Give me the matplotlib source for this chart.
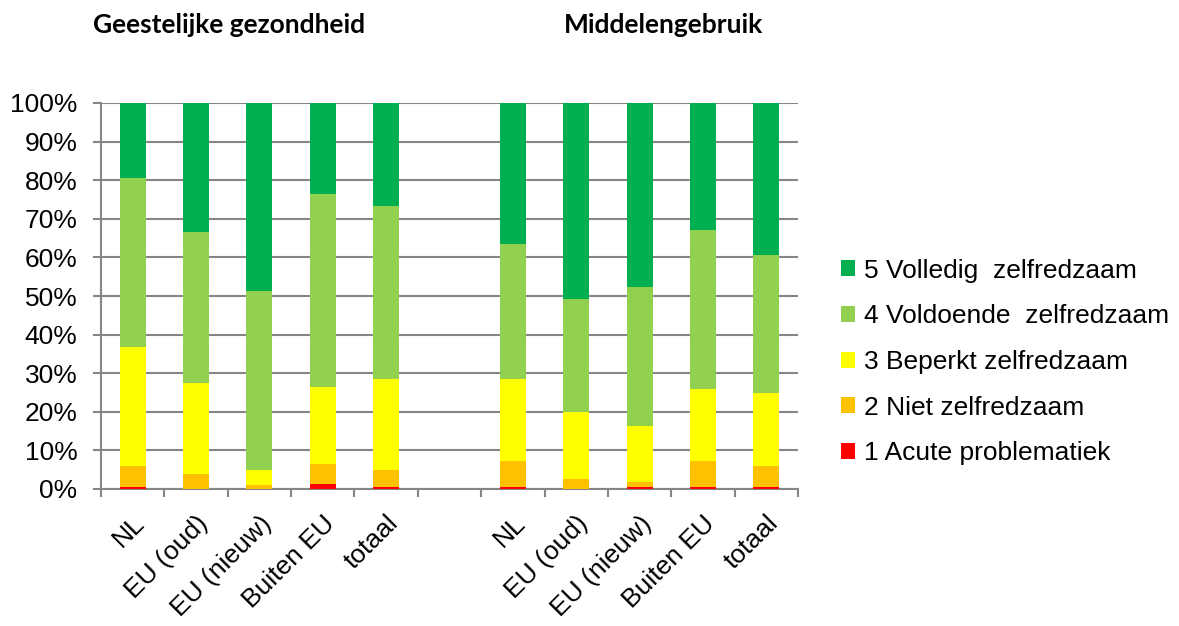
import numpy as np
import matplotlib
matplotlib.use("Agg")
from matplotlib import pyplot as plt
from matplotlib.ticker import FuncFormatter, MultipleLocator

plt.rcParams['font.family'] = ['Liberation Sans', 'DejaVu Sans']

# categories per panel
categories = ['NL', 'EU (oud)', 'EU (nieuw)', 'Buiten EU', 'totaal']
groups = ['Geestelijke gezondheid', 'Middelengebruik']

levels = ['1 Acute problematiek', '2 Niet zelfredzaam', '3 Beperkt zelfredzaam',
          '4 Voldoende  zelfredzaam', '5 Volledig  zelfredzaam']
colors = ['#FF0000', '#FFC000', '#FFFF00', '#92D050', '#00B050']

# percentages (level 1..5 per category)
geest_1 = [0.4, 0.0, 0.0, 1.2, 0.4]
geest_2 = [5.6, 3.9, 1.0, 5.3, 4.6]
geest_3 = [30.9, 23.5, 4.0, 19.9, 23.5]
geest_4 = [43.6, 39.3, 46.4, 50.0, 44.8]
geest_5 = [19.5, 33.3, 48.6, 23.6, 26.7]

middel_1 = [0.4, 0.0, 0.4, 0.4, 0.4]
middel_2 = [6.9, 2.5, 1.3, 6.9, 5.6]
middel_3 = [21.2, 17.5, 14.7, 18.5, 19.0]
middel_4 = [35.0, 29.1, 35.9, 41.4, 35.7]
middel_5 = [36.5, 50.9, 47.7, 32.8, 39.3]

geest = [geest_1, geest_2, geest_3, geest_4, geest_5]
middel = [middel_1, middel_2, middel_3, middel_4, middel_5]

fig = plt.figure(figsize=(11.79, 6.26), dpi=100)
ax = fig.add_axes([101 / 1179, 1 - 489 / 626, 697 / 1179, 386 / 626])

# positions: 5 bars, one empty slot, 5 bars
x = np.array([0, 1, 2, 3, 4, 6, 7, 8, 9, 10])
labels = categories + categories

bottom = np.zeros(len(x))
for i in range(len(levels)):
    vals = np.array(geest[i] + middel[i])
    ax.bar(x, vals, bottom=bottom, width=0.41, color=colors[i], label=levels[i],
           zorder=3)
    bottom += vals

ax.set_xlim(-0.5, 10.5)
ax.set_ylim(0, 100)
ax.yaxis.set_major_locator(MultipleLocator(10))
ax.yaxis.set_major_formatter(FuncFormatter(lambda v, p: f'{v:.0f}%'))
ax.grid(axis='y', color='#868686', linewidth=1.5, zorder=0)

ax.set_xticks(x)
ax.set_xticklabels(labels, rotation=45, ha='right', rotation_mode='anchor')
ax.set_xticks(np.arange(-0.5, 11, 1), minor=True)
ax.tick_params(axis='x', which='major', length=0, pad=16, labelsize=19)
ax.tick_params(axis='x', which='minor', length=6, width=1.5, color='#868686')
ax.tick_params(axis='y', length=6, width=1.5, color='#868686', labelsize=19, pad=11)

for side in ['top', 'right']:
    ax.spines[side].set_visible(False)
for side in ['left', 'bottom']:
    ax.spines[side].set_color('#868686')
    ax.spines[side].set_linewidth(1.5)

fig.text(229 / 1179, 1 - 25 / 626, groups[0], ha='center', va='center',
         fontsize=19, fontweight='bold', family=['Lato', 'DejaVu Sans'])
fig.text(663 / 1179, 1 - 25 / 626, groups[1], ha='center', va='center',
         fontsize=19, fontweight='bold', family=['Lato', 'DejaVu Sans'])

handles, labs = ax.get_legend_handles_labels()
fig.legend(handles[::-1], labs[::-1], loc='center left',
           bbox_to_anchor=(830 / 1179, 1 - 362 / 626), frameon=False,
           fontsize=19, handlelength=0.55, handleheight=0.55, handletextpad=0.35,
           labelspacing=0.82, borderaxespad=0)

fig.savefig('out.png', dpi=100)
